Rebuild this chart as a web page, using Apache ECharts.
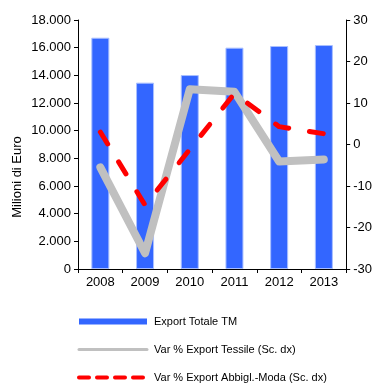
<!DOCTYPE html>
<html>
<head>
<meta charset="utf-8">
<script src="https://cdn.jsdelivr.net/npm/echarts@6/dist/echarts.min.js"></script>
<style>
  html, body { margin: 0; padding: 0; background: #fff; }
  #chart { width: 375px; height: 383px; }
</style>
</head>
<body>
<div id="chart"></div>
<script>
// Export values (million euro) and year-on-year changes (%, right scale)
const years = ['2008', '2009', '2010', '2011', '2012', '2013'];
const exportTotale = [16720, 13470, 14020, 16000, 16120, 16190];
const varTessile = [-5.5, -26.2, 13.3, 12.7, -4.1, -3.6];
const varAbbigl = [3.0, -14.6, -1.2, 12.3, 4.3, 2.6];

const leftTicks = { min: 0, max: 18000, interval: 2000 };
const rightTicks = { min: -30, max: 30, interval: 10 };

const FONT = 'Liberation Sans, Arial, sans-serif';
const chart = echarts.init(document.getElementById('chart'), null, { renderer: 'canvas' });

function fmtThousands(v) {
  return String(v).replace(/\B(?=(\d{3})+(?!\d))/g, '.');
}

const axisCommon = {
  axisLine: { show: true, lineStyle: { color: '#000', width: 1 } },
  axisTick: { show: true, length: 4, lineStyle: { color: '#000' } },
  splitLine: { show: false },
  axisLabel: { color: '#000', fontFamily: FONT, fontSize: 13 }
};

const noMarker = { color: 'rgba(0,0,0,0)', borderWidth: 0 };

chart.setOption({
  animation: false,
  backgroundColor: '#fff',
  grid: { left: 78, right: 28, top: 20, bottom: 114, containLabel: false },
  xAxis: {
    type: 'category',
    data: years,
    boundaryGap: true,
    axisLine: { show: true, onZero: false, lineStyle: { color: '#000', width: 1 } },
    axisTick: { show: true, length: 4, alignWithLabel: false, lineStyle: { color: '#000' } },
    axisLabel: { color: '#000', fontFamily: FONT, fontSize: 13, margin: 7 },
    splitLine: { show: false }
  },
  yAxis: [
    Object.assign({}, axisCommon, {
      type: 'value',
      position: 'left',
      min: leftTicks.min, max: leftTicks.max, interval: leftTicks.interval,
      axisLabel: Object.assign({}, axisCommon.axisLabel, { margin: 7, formatter: fmtThousands })
    }),
    Object.assign({}, axisCommon, {
      type: 'value',
      position: 'right',
      min: rightTicks.min, max: rightTicks.max, interval: rightTicks.interval,
      axisLabel: Object.assign({}, axisCommon.axisLabel, { margin: 7 })
    })
  ],
  legend: {
    orient: 'vertical',
    left: 77,
    top: 316,
    width: 280,
    height: 120,
    padding: 0,
    itemWidth: 68,
    itemHeight: 6,
    itemGap: 17,
    textStyle: { color: '#000', fontFamily: FONT, fontSize: 11, padding: [0, 0, 0, 2] },
    data: [
      { name: 'Export Totale TM', icon: 'rect', itemStyle: { color: '#3366FF', borderWidth: 0 } },
      { name: 'Var % Export Tessile (Sc. dx)', itemStyle: noMarker,
        lineStyle: { color: '#C0C0C0', width: 3, type: 'solid' } },
      { name: 'Var % Export Abbigl.-Moda (Sc. dx)', itemStyle: noMarker,
        lineStyle: { color: '#FF0000', width: 4, type: [10, 8] } }
    ]
  },
  graphic: [
    {
      type: 'text',
      x: 17, y: 177,
      rotation: Math.PI / 2,
      style: {
        text: 'Milioni di Euro',
        fill: '#000',
        font: '13px ' + FONT,
        align: 'center',
        verticalAlign: 'middle'
      }
    }
  ],
  series: [
    {
      name: 'Export Totale TM',
      type: 'bar',
      yAxisIndex: 0,
      data: exportTotale,
      barWidth: 18,
      itemStyle: { color: '#3366FF', borderColor: '#A9BFFF', borderWidth: 1 }
    },
    {
      name: 'Var % Export Tessile (Sc. dx)',
      type: 'line',
      yAxisIndex: 1,
      data: varTessile,
      symbol: 'none',
      lineStyle: { color: '#C0C0C0', width: 8, cap: 'round', join: 'round' },
      itemStyle: { color: '#C0C0C0' },
      z: 3
    },
    {
      name: 'Var % Export Abbigl.-Moda (Sc. dx)',
      type: 'line',
      yAxisIndex: 1,
      data: varAbbigl,
      symbol: 'none',
      lineStyle: { color: '#FF0000', width: 5, type: [14, 21], cap: 'round', join: 'round' },
      itemStyle: { color: '#FF0000' },
      z: 4
    }
  ]
});
</script>
</body>
</html>
